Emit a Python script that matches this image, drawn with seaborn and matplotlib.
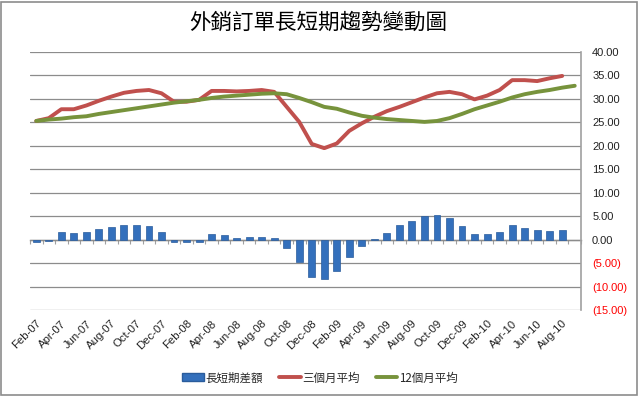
import numpy as np
import pandas as pd
import matplotlib
matplotlib.use("Agg")
import matplotlib.pyplot as plt
from matplotlib.patches import Patch, Rectangle
from matplotlib.lines import Line2D
import seaborn as sns

months = ["Feb-07", "Mar-07", "Apr-07", "May-07", "Jun-07", "Jul-07", "Aug-07", "Sep-07", "Oct-07", "Nov-07", "Dec-07",
          "Jan-08", "Feb-08", "Mar-08", "Apr-08", "May-08", "Jun-08", "Jul-08", "Aug-08", "Sep-08", "Oct-08", "Nov-08", "Dec-08",
          "Jan-09", "Feb-09", "Mar-09", "Apr-09", "May-09", "Jun-09", "Jul-09", "Aug-09", "Sep-09", "Oct-09", "Nov-09", "Dec-09",
          "Jan-10", "Feb-10", "Mar-10", "Apr-10", "May-10", "Jun-10", "Jul-10", "Aug-10", "Sep-10"]

diff = [-0.4, -0.3, 1.6, 1.4, 1.7, 2.3, 2.7, 3.1, 3.2, 2.9, 1.7,
        -0.4, -0.6, -0.4, 1.1, 0.9, 0.4, 0.6, 0.6, 0.4, -1.7, -4.7, -7.9,
        -8.3, -6.6, -3.6, -1.4, 0.2, 1.5, 3.1, 3.9, 5.0, 5.3, 4.7, 3.0,
        1.1, 1.1, 1.7, 3.1, 2.4, 2.1, 1.9, 2.1, np.nan]

avg3 = [25.3, 25.9, 27.8, 27.8, 28.6, 29.6, 30.5, 31.3, 31.7, 31.9, 31.2,
        29.4, 29.4, 29.8, 31.7, 31.7, 31.6, 31.7, 31.9, 31.5, 28.3, 25.1, 20.4,
        19.5, 20.5, 23.2, 24.8, 26.2, 27.4, 28.3, 29.3, 30.3, 31.2, 31.5, 31.0,
        29.9, 30.7, 31.9, 34.0, 34.0, 33.8, 34.4, 34.9, np.nan]

avg12 = [25.3, 25.6, 25.8, 26.1, 26.3, 26.8, 27.2, 27.6, 28.0, 28.4, 28.8,
         29.2, 29.5, 29.8, 30.2, 30.5, 30.7, 30.9, 31.1, 31.2, 31.0, 30.2, 29.3,
         28.3, 27.9, 27.1, 26.4, 26.0, 25.7, 25.5, 25.3, 25.1, 25.3, 25.9, 26.8,
         27.8, 28.6, 29.4, 30.3, 31.0, 31.5, 31.9, 32.4, 32.8]

series_names = ["長短期差額", "三個月平均", "12個月平均"]
y_ticks = [40, 35, 30, 25, 20, 15, 10, 5, 0, -5, -10, -15]

df = pd.DataFrame({"month": months, "pos": np.arange(len(months)),
                   "diff": diff, "avg3": avg3, "avg12": avg12})

sns.set_theme(style="white")
plt.rcParams['font.family'] = ['Noto Sans CJK TC', 'DejaVu Sans']

fig = plt.figure(figsize=(6.4, 3.97), dpi=100)
ax = fig.add_axes([30/640, 87/397, 551/640, 258/397])

bar_c = "#3470BC"
red_c = "#C0504D"
green_c = "#77933C"

sns.barplot(data=df, x="month", y="diff", color=bar_c, width=0.55, ax=ax,
            saturation=1, edgecolor="#2A5C9C", linewidth=0.5, zorder=3)
sns.lineplot(data=df, x="pos", y="avg3", color=red_c, linewidth=2.8, ax=ax, zorder=4)
sns.lineplot(data=df, x="pos", y="avg12", color=green_c, linewidth=2.8, ax=ax, zorder=5)

n = len(months)
ax.set_xlim(-0.5, n - 0.5)
ax.set_ylim(-15, 40)

# y axis on right
ax.yaxis.tick_right()
ax.set_yticks(y_ticks)
ylabels = [f"{v:.2f}" if v >= 0 else f"({abs(v):.2f})" for v in y_ticks]
ax.set_yticklabels(ylabels, family="Liberation Sans", fontsize=8)
for lab, v in zip(ax.get_yticklabels(), y_ticks):
    lab.set_color("#FF0000" if v < 0 else "#222222")
ax.tick_params(axis="y", length=0, pad=8)
ax.grid(axis="y", color="#8C8C8C", linewidth=0.9, zorder=0)
ax.set_axisbelow(True)

# x labels
ax.set_xticks(np.arange(0, n, 2))
ax.set_xticklabels(months[::2], rotation=45, ha="right", rotation_mode="anchor",
                   family="Liberation Sans", fontsize=8.2, color="#222222")
ax.tick_params(axis="x", length=0, pad=6)
ax.set_xlabel("")
ax.set_ylabel("")

for s in ["top", "left", "bottom"]:
    ax.spines[s].set_visible(False)
ax.spines["right"].set_color("#A0A0A0")
ax.spines["right"].set_linewidth(1.2)

# category axis at zero with small tick marks
sec = ax.secondary_xaxis((0 - (-15)) / 55)
sec.set_xticks(np.arange(-0.5, n, 1))
sec.set_xticklabels([])
sec.tick_params(length=3, direction="out", color="#A0A0A0", width=0.8)
sec.spines["bottom"].set_color("#8C8C8C")
sec.spines["bottom"].set_linewidth(1.0)

fig.text(0.497, 0.942, "外銷訂單長短期趨勢變動圖", ha="center", va="center",
         fontsize=15.5, color="black")

handles = [Patch(facecolor=bar_c, edgecolor="#2A5C9C"),
           Line2D([], [], color=red_c, linewidth=2.8),
           Line2D([], [], color=green_c, linewidth=2.8)]
fig.legend(handles, series_names, loc="center", bbox_to_anchor=(0.5, 0.048),
           ncol=3, frameon=False, fontsize=8.3, handlelength=1.9, columnspacing=1.35,
           handletextpad=0.15)

fig.patches.append(Rectangle((0.002, 0.004), 0.994, 0.99, transform=fig.transFigure,
                             fill=False, edgecolor="#8C8C8C", linewidth=1.2))

fig.savefig("out.png", dpi=100)
